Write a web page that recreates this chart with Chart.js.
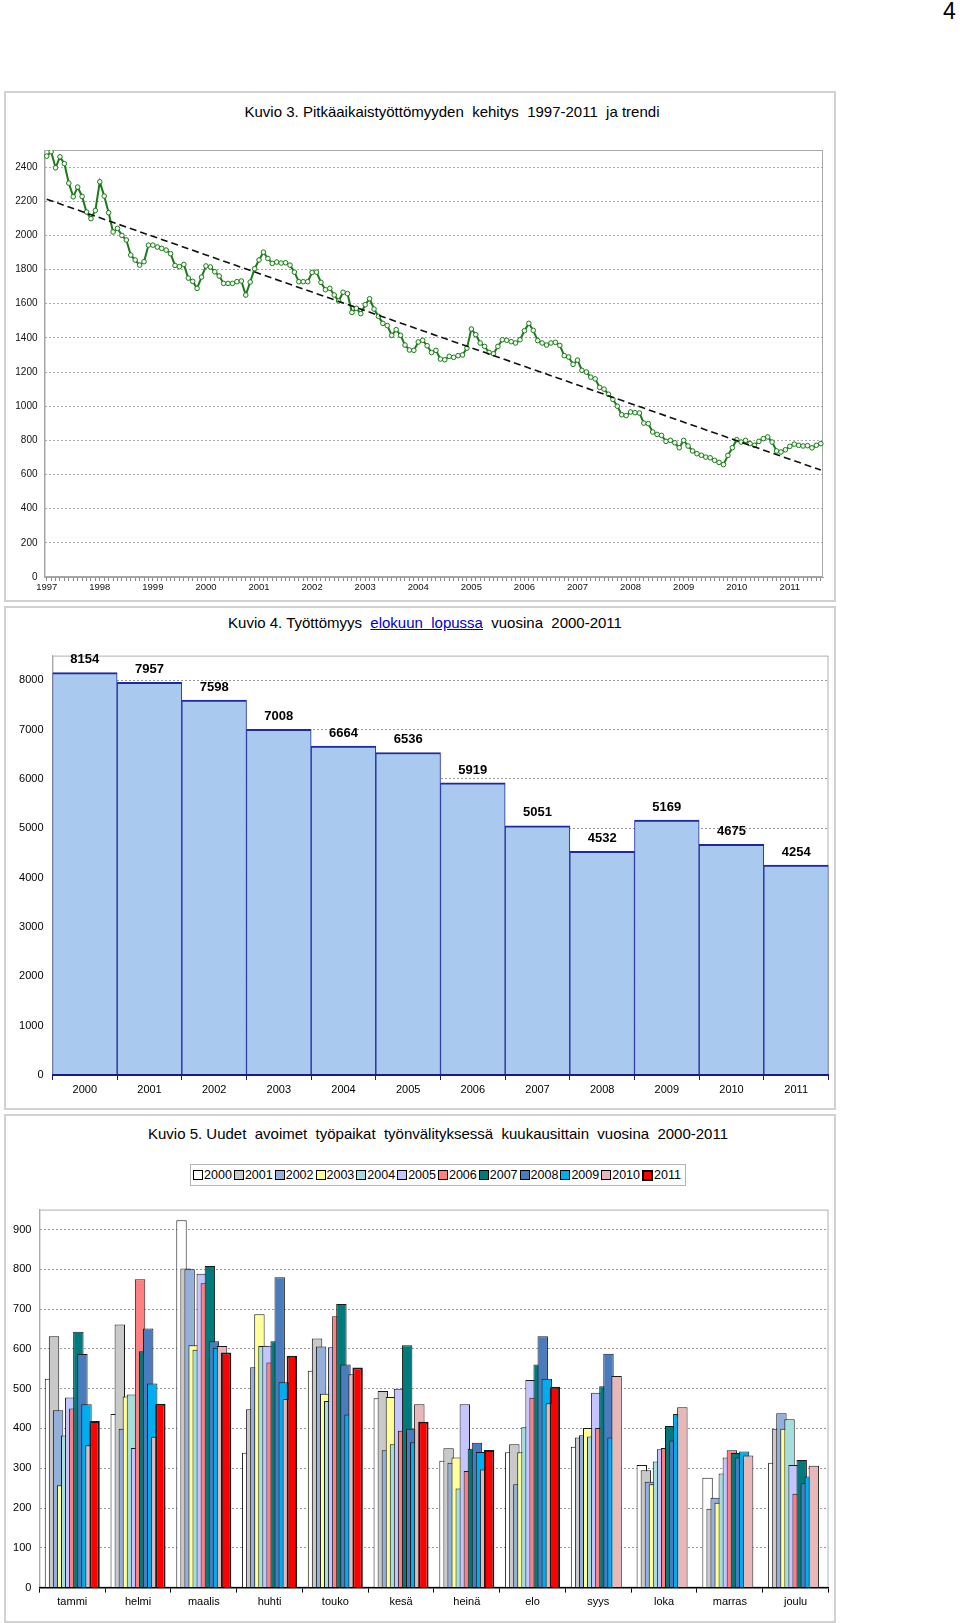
<!DOCTYPE html>
<html>
<head>
<meta charset="utf-8">
<script src="https://cdn.jsdelivr.net/npm/chart.js@4.4.1/dist/chart.umd.min.js"></script>
<style>
body { margin: 0; background: #fff; font-family: "Liberation Sans", Arial, sans-serif; }
#page { position: relative; width: 960px; height: 1623px; overflow: hidden; }
.box { position: absolute; left: 4px; width: 832px; border: 2px solid #d2d2d2; box-sizing: border-box; }
.ttl { position: absolute; font-size: 15px; color: #000; white-space: pre; transform: translateX(-50%); }
.ttl a { color: #0000cc; text-decoration: underline; }
canvas { position: absolute; }
#pageno { position: absolute; left: 943px; top: -2px; font-size: 23px; }
#legend3 { position: absolute; left: 190px; top: 1164px; width: 496px; height: 22px; border: 1px solid #b4b4b4;
  box-sizing: border-box; display: flex; align-items: center; justify-content: center; font-size: 12.5px; }
#legend3 .it { display: flex; align-items: center; margin-right: 2px; }
#legend3 .sw { display: inline-block; width: 8px; height: 8px; border: 1px solid #000; margin-right: 1px; }
</style>
</head>
<body>
<div id="page">
  <div id="pageno">4</div>

  <div class="box" style="top:91px;height:511px;"></div>
  <div class="ttl" style="left:452px;top:103px;">Kuvio 3. Pitkäaikaistyöttömyyden  kehitys  1997-2011  ja trendi</div>
  <canvas id="c1" width="829" height="470" style="left:6px;top:130px;"></canvas>

  <div class="box" style="top:606px;height:504px;"></div>
  <div class="ttl" style="left:425px;top:614px;">Kuvio 4. Työttömyys  <a>elokuun  lopussa</a>  vuosina  2000-2011</div>
  <canvas id="c2" width="829" height="468" style="left:6px;top:640px;"></canvas>

  <div class="box" style="top:1114px;height:509px;"></div>
  <div class="ttl" style="left:438px;top:1125px;">Kuvio 5. Uudet  avoimet  työpaikat  työnvälityksessä  kuukausittain  vuosina  2000-2011</div>
  <div id="legend3"></div>
  <canvas id="c3" width="829" height="425" style="left:6px;top:1195px;"></canvas>
</div>

<script>
// Kuvio 3: long-term unemployed, monthly 1/1997 - 8/2011
var ltuYears = [1997, 1998, 1999, 2000, 2001, 2002, 2003, 2004, 2005, 2006, 2007, 2008, 2009, 2010, 2011];
var ltu1997 = [2464, 2490, 2396, 2460, 2420, 2306, 2226, 2283, 2228, 2137, 2098, 2146];
var ltu1998 = [2314, 2230, 2133, 2020, 2041, 2000, 1973, 1885, 1856, 1826, 1846, 1943];
var ltu1999 = [1943, 1932, 1924, 1914, 1893, 1824, 1817, 1830, 1750, 1731, 1690, 1756];
var ltu2000 = [1821, 1815, 1787, 1762, 1719, 1719, 1719, 1729, 1733, 1651, 1727, 1805];
var ltu2001 = [1856, 1902, 1865, 1836, 1844, 1838, 1840, 1826, 1785, 1729, 1729, 1729];
var ltu2002 = [1783, 1785, 1725, 1682, 1690, 1651, 1616, 1667, 1659, 1549, 1573, 1542];
var ltu2003 = [1594, 1629, 1569, 1526, 1485, 1472, 1415, 1448, 1415, 1358, 1329, 1327];
var ltu2004 = [1376, 1386, 1354, 1314, 1327, 1276, 1272, 1292, 1286, 1296, 1300, 1340];
var ltu2005 = [1452, 1419, 1370, 1350, 1315, 1307, 1350, 1389, 1386, 1378, 1370, 1389];
var ltu2006 = [1442, 1485, 1444, 1384, 1370, 1358, 1370, 1374, 1356, 1296, 1288, 1245];
var ltu2007 = [1270, 1210, 1200, 1170, 1160, 1110, 1100, 1070, 1040, 1000, 950, 945];
var ltu2008 = [966, 962, 960, 901, 898, 849, 835, 829, 794, 800, 786, 757];
var ltu2009 = [800, 767, 738, 722, 713, 702, 698, 683, 671, 658, 712, 757];
var ltu2010 = [804, 790, 800, 781, 771, 794, 810, 820, 790, 738, 732, 745];
var ltu2011 = [765, 778, 771, 767, 769, 756, 771, 781];
var ltuByYear = [ltu1997, ltu1998, ltu1999, ltu2000, ltu2001, ltu2002, ltu2003, ltu2004,
                 ltu2005, ltu2006, ltu2007, ltu2008, ltu2009, ltu2010, ltu2011];
var trendEnds = [2212, 626];   // trend line value at first and last month
var ltuTicks = [0, 200, 400, 600, 800, 1000, 1200, 1400, 1600, 1800, 2000, 2200, 2400];

// Kuvio 4: unemployed at end of August
var unempYears = ['2000', '2001', '2002', '2003', '2004', '2005', '2006', '2007', '2008', '2009', '2010', '2011'];
var unempAug = [8154, 7957, 7598, 7008, 6664, 6536, 5919, 5051, 4532, 5169, 4675, 4254];
var unempTicks = [0, 1000, 2000, 3000, 4000, 5000, 6000, 7000, 8000];

// Kuvio 5: new vacancies per month
var monthNames = ['tammi', 'helmi', 'maalis', 'huhti', 'touko', 'kesä', 'heinä', 'elo', 'syys', 'loka', 'marras', 'joulu'];
var vacYears = ['2000', '2001', '2002', '2003', '2004', '2005', '2006', '2007', '2008', '2009', '2010', '2011'];
var vac2000 = [525, 436, 923, 339, 545, 476, 319, 340, 354, 308, 276, 314];
var vac2001 = [632, 661, 802, 448, 626, 494, 350, 360, 377, 295, 198, 399];
var vac2002 = [446, 399, 800, 554, 606, 345, 314, 260, 383, 266, 226, 438];
var vac2003 = [257, 480, 609, 687, 487, 479, 327, 340, 401, 260, 213, 399];
var vac2004 = [382, 485, 598, 607, 469, 360, 249, 403, 380, 317, 287, 423];
var vac2005 = [478, 351, 789, 608, 604, 500, 461, 522, 490, 348, 327, 308];
var vac2006 = [450, 775, 765, 566, 682, 394, 293, 477, 401, 351, 345, 236];
var vac2007 = [643, 594, 808, 619, 713, 609, 349, 561, 506, 406, 338, 321];
var vac2008 = [587, 651, 619, 780, 561, 399, 364, 632, 588, 370, 327, 262];
var vac2009 = [461, 513, 603, 516, 435, 365, 341, 525, 377, 436, 342, 279];
var vac2010 = [358, 379, 607, 474, 536, 461, 297, 463, 532, 453, 332, 306];
var vac2011 = [419, 462, 591, 583, 553, 417, 346, 505];
var vacByYear = [vac2000, vac2001, vac2002, vac2003, vac2004, vac2005, vac2006, vac2007, vac2008, vac2009, vac2010, vac2011];
var vacTicks = [0, 100, 200, 300, 400, 500, 600, 700, 800, 900];
var vacColors = ['#ffffff', '#c9c9c9', '#94afd9', '#ffff99', '#a6dede', '#c4c4ff', '#ff8080', '#007a7a', '#4a7bbd', '#00aeef', '#e8b8b8', '#ff0000'];

var FONT = '"Liberation Sans", Arial, sans-serif';
Chart.defaults.font.family = FONT;
Chart.defaults.color = '#000';

// fixed tick list for a value axis
function fixedTicks(list) {
    return function(s) { s.ticks = list.map(function(v) { return { value: v }; }); };
}
// plain numbers, no thousands separator
function plain(v) { return String(v); }

// gray frame round the plot area
function plotBox(color) {
    return {
        id: 'plotBox',
        beforeDatasetsDraw: function(chart) {
            var a = chart.chartArea, ctx = chart.ctx;
            ctx.save();
            ctx.strokeStyle = color;
            ctx.lineWidth = 1;
            ctx.strokeRect(a.left + 0.5, a.top + 0.5, a.right - a.left - 1, a.bottom - a.top - 1);
            ctx.restore();
        }
    };
}

//Kuvio 3 - line + trend
var ltuAll = [], ltuLabels = [];
ltuByYear.forEach(function(arr, yi) {
    arr.forEach(function(v, m) {
        ltuAll.push(v);
        ltuLabels.push(ltuYears[yi] + '/' + (m + 1));
    });
});
var trend = ltuAll.map(function() { return null; });
trend[0] = trendEnds[0];
trend[trend.length - 1] = trendEnds[1];

new Chart(document.getElementById('c1'), {
    type: 'line',
    data: {
        labels: ltuLabels,
        datasets: [
            { label: 'trendi', data: trend, spanGaps: true, borderColor: '#111', borderWidth: 1.6,
              borderDash: [7, 4], pointRadius: 0, fill: false },
            { label: 'pitkäaikaistyöttömät', data: ltuAll, borderColor: '#1c7a1c', borderWidth: 2, tension: 0,
              pointRadius: 2.3, pointBorderWidth: 1, pointBackgroundColor: '#eef8e8', pointBorderColor: '#1c7a1c' }
        ]
    },
    options: {
        responsive: false, animation: false,
        layout: { padding: { top: 20, right: 12, left: 0, bottom: 0 } },
        plugins: { legend: { display: false }, tooltip: { enabled: false } },
        scales: {
            x: {
                offset: true,
                afterFit: function(s) { s.height = 23; },
                grid: { drawOnChartArea: false, color: '#8a8a8a', tickLength: 4 },
                border: { color: '#a0a0a0' },
                ticks: {
                    autoSkip: false, maxRotation: 0, minRotation: 0, padding: 1, font: { size: 9.5 }, color: '#111',
                    callback: function(v) {
                        var l = this.getLabelForValue(v).split('/');
                        return l[1] === '1' ? l[0] : '';
                    }
                }
            },
            y: {
                min: 0, max: 2500,
                afterFit: function(s) { s.width = 38.5; },
                afterBuildTicks: fixedTicks(ltuTicks),
                ticks: { font: { size: 10 }, color: '#111', padding: 7, callback: plain },
                grid: { color: '#a8a8a8', drawTicks: false },
                border: { color: '#a0a0a0', dash: [2, 2] }
            }
        }
    },
    plugins: [plotBox('#a8a8a8')]
});

//Kuvio 4 - bars with value labels
var barValueLabels = {
    id: 'barValueLabels',
    afterDatasetsDraw: function(chart) {
        var ctx = chart.ctx, meta = chart.getDatasetMeta(0), vals = chart.data.datasets[0].data;
        ctx.save();
        ctx.font = 'bold 13px ' + FONT;
        ctx.fillStyle = '#000';
        ctx.textAlign = 'center';
        ctx.textBaseline = 'middle';
        meta.data.forEach(function(bar, i) { ctx.fillText(vals[i], bar.x, bar.y - 13); });
        ctx.restore();
    }
};

new Chart(document.getElementById('c2'), {
    type: 'bar',
    data: {
        labels: unempYears,
        datasets: [{ data: unempAug, backgroundColor: '#a9c9ef', borderColor: '#1f2b9c',
                     borderWidth: { top: 2, left: 1, right: 1, bottom: 0 }, borderSkipped: false,
                     barPercentage: 1, categoryPercentage: 1 }]
    },
    options: {
        responsive: false, animation: false,
        layout: { padding: { top: 12, right: 6.5, left: 0, bottom: 0 } },
        plugins: { legend: { display: false }, tooltip: { enabled: false } },
        scales: {
            x: {
                afterFit: function(s) { s.height = 33; },
                grid: { offset: true, drawOnChartArea: false, color: '#1a1a80', tickLength: 5 },
                border: { color: '#1a1a80', width: 2, z: 1 },
                ticks: { font: { size: 11 }, color: '#000', padding: 3 }
            },
            y: {
                min: 0, max: 8500,
                afterFit: function(s) { s.width = 46.5; },
                afterBuildTicks: fixedTicks(unempTicks),
                ticks: { font: { size: 11 }, color: '#000', padding: 9, callback: plain },
                grid: { color: '#9a9a9a', drawTicks: false },
                border: { color: '#a8a8a8', dash: [2, 2] }
            }
        }
    },
    plugins: [plotBox('#b0b0b0'), barValueLabels]
});

//Kuvio 5 - overlapping grouped bars, later years drawn on top
var overlapOrder = {
    id: 'overlapOrder',
    beforeDatasetsDraw: function(chart) {
        chart.getSortedVisibleDatasetMetas().forEach(function(meta) { meta.controller.draw(); });
        return false;
    }
};

var leg = document.getElementById('legend3');
vacYears.forEach(function(y, i) {
    var it = document.createElement('span');
    it.className = 'it';
    var sw = document.createElement('span');
    sw.className = 'sw';
    sw.style.background = vacColors[i];
    if (i === vacYears.length - 1) { sw.style.borderWidth = '2px'; sw.style.width = '7px'; sw.style.height = '7px'; }
    it.appendChild(sw);
    it.appendChild(document.createTextNode(y));
    leg.appendChild(it);
});

new Chart(document.getElementById('c3'), {
    type: 'bar',
    data: {
        labels: monthNames,
        datasets: vacYears.map(function(y, i) {
            return { label: y, data: vacByYear[i], backgroundColor: vacColors[i], borderColor: '#1a1a1a',
                     borderWidth: i === vacYears.length - 1 ? 2 : 1, barPercentage: 2.57, categoryPercentage: 0.74 };
        })
    },
    options: {
        responsive: false, animation: false,
        layout: { padding: { top: 13.5, right: 6.5, left: 0, bottom: 0 } },
        plugins: { legend: { display: false }, tooltip: { enabled: false } },
        scales: {
            x: {
                afterFit: function(s) { s.height = 32.4; },
                grid: { offset: true, drawOnChartArea: false, color: '#000', tickLength: 5 },
                border: { color: '#000', width: 1.5, z: 1 },
                ticks: { font: { size: 11 }, color: '#000', padding: 3 }
            },
            y: {
                min: 0, max: 950,
                afterFit: function(s) { s.width = 33.4; },
                afterBuildTicks: fixedTicks(vacTicks),
                ticks: { font: { size: 11 }, color: '#000', padding: 8, callback: plain },
                grid: { color: '#9a9a9a', drawTicks: false },
                border: { color: '#a8a8a8', dash: [2, 2] }
            }
        }
    },
    plugins: [plotBox('#b0b0b0'), overlapOrder]
});
</script>
</body>
</html>
